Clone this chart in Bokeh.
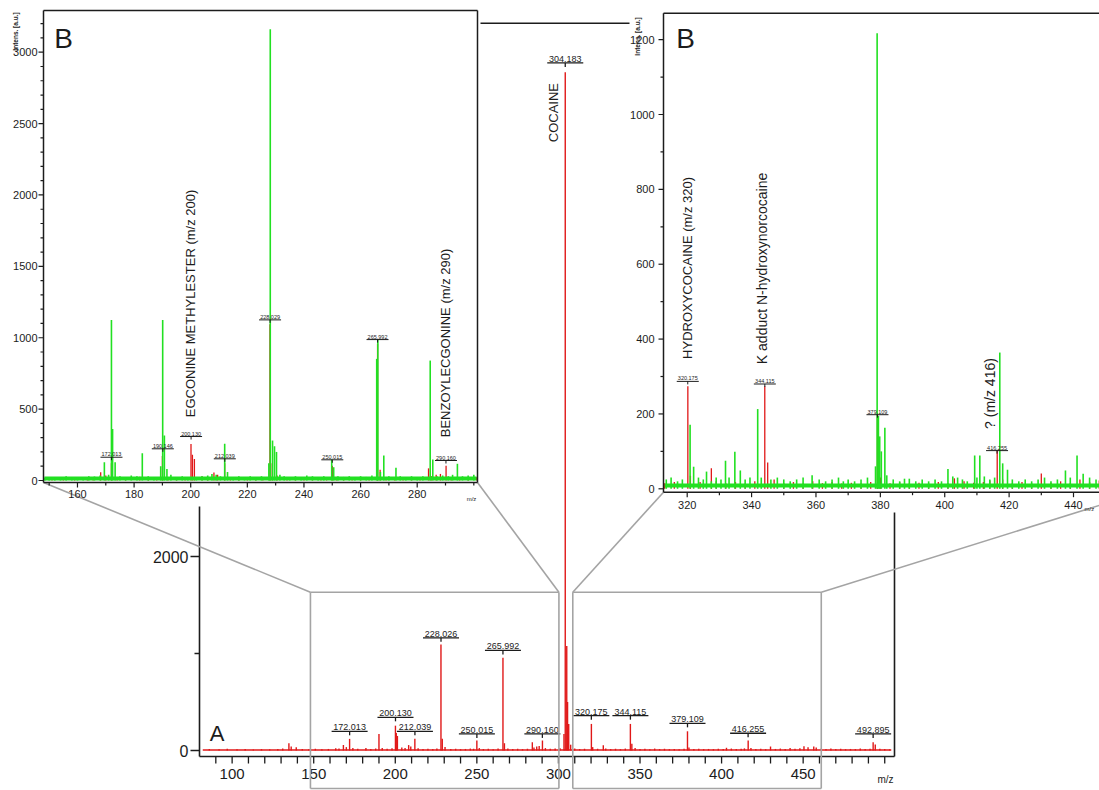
import math
from bokeh.plotting import figure
from bokeh.models import Range1d
from bokeh.embed import file_html
from bokeh.resources import INLINE
from bokeh.core.properties import value

W, H = 1099, 790
OX, OY = 0, 0
FONT = "Liberation Sans"
RED = "#e01818"
GREEN = "#22e022"
GREY = "#a4a4a4"
INK = "#1c1c1c"

# ---------------- data ----------------
# main spectrum (red), m/z and intensity [a.u.]
main_mz = [86, 92, 97, 103, 108, 113, 118, 123, 128, 131, 134.8, 136.2, 139.3, 143, 147, 151, 155, 159,
           163.5, 165.5, 168.2, 170, 172.0, 174, 177, 182, 185, 188, 190.0, 192, 195, 198, 200.1, 200.6,
           201.3, 204, 206, 208.2, 209.5, 212.0, 214, 217, 220, 223, 225.5, 228.0, 228.8, 230.5, 234, 237,
           240, 243, 246, 248, 250.0, 251.5, 254, 257, 260, 263, 266.0, 266.9, 269, 272, 275, 278, 281,
           284.0, 285, 286.7, 288.2, 290.2, 292, 295, 298, 301, 303.4, 304.18, 305.1, 305.6, 306.3, 307.5,
           310, 313, 316, 320.2, 321, 324, 327.5, 329, 332, 335, 338, 341, 344.1, 345, 347, 350, 353, 356,
           359, 362, 365, 368, 371, 374, 377, 379.1, 380, 383, 386, 389, 392, 395, 398, 401, 403, 406, 409,
           412, 414, 416.3, 418, 421, 424, 427, 430, 433, 436, 439, 442, 445, 448, 450.5, 453, 456.5, 458,
           461, 464, 467, 470, 473, 476, 479, 482, 485, 488, 491, 492.9, 494.2, 497, 500, 503]
main_int = [15, 12, 18, 12, 15, 10, 14, 12, 16, 20, 75, 40, 34, 15, 12, 18, 14, 16,
            22, 20, 57, 35, 120, 25, 18, 27, 15, 20, 171, 25, 18, 22, 256, 180,
            150, 30, 25, 56, 40, 120, 22, 15, 18, 15, 20, 1094, 120, 35, 15, 18,
            14, 16, 20, 18, 103, 25, 15, 18, 14, 20, 957, 75, 20, 15, 18, 14, 18,
            85, 30, 40, 46, 103, 25, 18, 20, 22, 171, 6993, 1077, 500, 274, 60,
            20, 15, 18, 274, 35, 18, 55, 20, 15, 18, 14, 20, 274, 70, 25, 15, 18, 14,
            20, 15, 18, 14, 16, 14, 18, 198, 30, 15, 18, 14, 16, 14, 18, 15, 28, 20, 16,
            18, 22, 103, 25, 15, 18, 14, 41, 16, 20, 15, 25, 18, 22, 45, 34, 41, 30,
            18, 16, 20, 15, 18, 14, 16, 15, 20, 16, 18, 85, 62, 18, 15, 12]
main_lab_mz = [172.013, 200.130, 212.039, 228.026, 250.015, 265.992, 290.160, 304.183,
               320.175, 344.115, 379.109, 416.255, 492.895]
main_lab_lvl = [198, 342, 198, 1162, 171, 1032, 171, 7088, 359, 359, 280, 178, 171]
main_lab_txt = ["172.013", "200.130", "212.039", "228.026", "250.015", "265.992", "290.160",
                "304.183", "320.175", "344.115", "379.109", "416.255", "492.895"]

# left inset (green), m/z 148-301
left_mz = [148.5, 150, 152, 154, 156, 158, 160, 162, 164, 166, 168, 169.5, 171, 172.0, 172.4, 173.3,
           175, 177, 179, 181, 182.9, 185, 187, 189.4, 190.1, 190.7, 191.6, 193, 195, 197, 199, 202,
           204, 206, 207.5, 209, 210.5, 212.0, 213, 215, 217, 219, 221, 223, 225, 227.6, 228.1, 228.9,
           229.6, 230.3, 231.5, 233, 235, 237, 239, 241, 243, 245, 247, 249.8, 250.5, 252, 254, 256,
           258, 260, 262, 264, 265.7, 266.1, 267, 268.2, 270, 272.5, 274, 276, 278, 280, 282, 284.6,
           285.5, 287, 289, 291, 292.5, 294.2, 296, 298, 300]
left_int = [20, 15, 25, 18, 30, 22, 25, 20, 30, 28, 35, 128, 40, 1125, 360, 128,
            30, 25, 35, 30, 191, 30, 25, 100, 1125, 315, 80, 40, 25, 30, 20, 25,
            30, 35, 45, 40, 30, 257, 60, 25, 30, 22, 30, 25, 30, 120, 3160, 280,
            240, 200, 40, 30, 25, 30, 25, 35, 30, 25, 30, 147, 93, 30, 25, 30,
            25, 30, 25, 35, 852, 990, 60, 175, 30, 90, 30, 25, 30, 25, 30, 840,
            147, 30, 35, 30, 40, 117, 30, 35, 40]
left_lab_mz = [172.013, 190.146, 200.130, 212.039, 228.029, 250.015, 265.992, 290.160]
left_lab_lvl = [163, 222, 308, 152, 1125, 145, 987, 140]
left_lab_txt = ["172.013", "190.146", "200.130", "212.039", "228.029", "250.015", "265.992", "290.160"]

# right inset (green), m/z 313-461
right_mz = [313.5, 315, 317, 318.5, 320.9, 322, 323.5, 325, 326, 327.5, 329, 330.5, 331.9, 333, 334.8,
            336.5, 338, 339.5, 341.9, 343, 346, 348, 350, 352, 354, 356, 358.8, 361, 363, 365, 367,
            368.5, 370, 372, 374, 376, 378.5, 379.0, 379.4, 379.8, 380.3, 381.4, 382, 384, 386, 387.5,
            389, 391, 393, 395, 397, 399, 401, 402.5, 404, 405.5, 407, 409.3, 410, 410.9, 412.3, 414,
            415.5, 417.1, 418, 419.5, 421, 423, 425, 427, 429, 431, 433, 435, 437.5, 439, 441.1, 443,
            445, 447, 450, 453, 456, 459]
right_int = [25, 30, 20, 25, 171, 59, 30, 25, 46, 20, 30, 25, 75, 30, 99,
             49, 25, 30, 213, 30, 25, 30, 25, 20, 25, 30, 36, 25, 20, 25, 30,
             20, 25, 20, 25, 30, 60, 1217, 195, 140, 100, 163, 36, 25, 20, 27,
             27, 20, 25, 20, 25, 20, 53, 33, 30, 25, 20, 89, 30, 89, 33, 25,
             30, 364, 68, 51, 25, 20, 25, 20, 25, 30, 20, 25, 49, 30, 89, 40,
             30, 25, 30, 25, 30, 25]
right_lab_mz = [320.175, 344.115, 379.109, 416.255]
right_lab_lvl = [287, 280, 198, 102]
right_lab_txt = ["320.175", "344.115", "379.109", "416.255"]

# axis ticks
main_xticks = list(range(90, 501, 10))
main_xlabels = [100, 150, 200, 250, 300, 350, 400, 450]
main_yticks = [0, 1000, 2000, 3000, 4000, 5000, 6000, 7000]
main_ylabels = [0, 2000, 4000, 6000]
left_xticks = list(range(150, 301, 10))
left_xlabels = [160, 180, 200, 220, 240, 260, 280]
left_yticks = list(range(0, 3201, 100))
left_ylabels = [0, 500, 1000, 1500, 2000, 2500, 3000]
right_xticks = list(range(320, 461, 10))
right_xlabels = [320, 340, 360, 380, 400, 420, 440]
right_yticks = list(range(0, 1201, 100))
right_ylabels = [0, 200, 400, 600, 800, 1000, 1200]

# zoom windows shown in the main spectrum
zoom_left = (148.0, 300.3)
zoom_right = (308.8, 461.1)


# ---------------- layout helpers (page pixels -> data) ----------------
class Sys:
    def __init__(self, name, d0x, d1x, p0x, p1x, d0y, d1y, p0y, p1y):
        self.name = name
        self.d0x, self.p0x, self.sx = d0x, p0x, (p1x - p0x) / (d1x - d0x)
        self.d0y, self.p0y, self.sy = d0y, p0y, (p1y - p0y) / (d1y - d0y)

    def dx(self, px):
        return self.d0x + (px - self.p0x) / self.sx

    def dy(self, py):
        return self.d0y + (py - self.p0y) / self.sy

    def ux(self, n):
        return n / abs(self.sx)

    def uy(self, n):
        return n / abs(self.sy)

    def xr(self):
        return Range1d(self.dx(OX), self.dx(OX + W))

    def yr(self):
        return Range1d(self.dy(OY + H), self.dy(OY))


M = Sys("default", 80, 450, 199, 199 + 370 * 1.6315, 0, 2000, 750, 556)
L = Sys("L", 148, 301.3, 43, 477, 0, 3000, 480, 51.7)
R = Sys("R", 320, 440, 686.7, 1073, 0, 1000, 488.3, 114)

p = figure(width=W, height=H, x_range=M.xr(), y_range=M.yr(), output_backend="svg",
           toolbar_location=None, x_axis_location=None, y_axis_location=None, min_border=0)
p.grid.visible = False
p.outline_line_color = None
p.background_fill_color = "white"
p.border_fill_color = "white"
p.extra_x_ranges = {"L": L.xr(), "R": R.xr()}
p.extra_y_ranges = {"L": L.yr(), "R": R.yr()}


def kw(s):
    return dict(x_range_name=s.name, y_range_name=s.name)


def seg(s, x0, y0, x1, y1, color=INK, width=1.0):
    p.segment(x0=x0, y0=y0, x1=x1, y1=y1, line_color=color, line_width=width, **kw(s))


def txt(s, x, y, t, size, align="center", baseline="middle", angle=0.0, color=INK, xo=0, yo=0, style="normal"):
    p.text(x=x, y=y, text=t, text_font=value(FONT), text_font_size=f"{size}px", text_align=align,
           text_baseline=baseline, angle=angle, text_color=color, x_offset=xo, y_offset=yo,
           text_font_style=style, **kw(s))


def sticks(s, mz, inten, lo, hi, color, width):
    xs = [m for m, i in zip(mz, inten) if lo <= m <= hi]
    ys = [i for m, i in zip(mz, inten) if lo <= m <= hi]
    seg(s, xs, [0] * len(xs), xs, ys, color, width)


def peak_labels(s, mz, lvl, labels, size, bar_px, tick_px, lw):
    hw = s.ux(bar_px / 2)
    seg(s, [m - hw for m in mz], lvl, [m + hw for m in mz], lvl, INK, lw)
    seg(s, mz, lvl, mz, [v - s.uy(tick_px) for v in lvl], INK, lw)
    txt(s, mz, lvl, labels, size, baseline="bottom", yo=-1)


def frame(s, l, t, r, b, width=1.5):
    x0, x1, y0, y1 = s.dx(l), s.dx(r), s.dy(b), s.dy(t)
    seg(s, [x0, x0, x1, x0], [y0, y1, y1, y0], [x0, x1, x1, x1], [y1, y1, y0, y0], INK, width)


def axes(s, l, b, xticks, xlabels, yticks, ylabels, fs, xlab_dy, ylab_dx, major_len, minor_len):
    xa, ya = s.dx(l), s.dy(b)
    xt_end = [ya - s.uy(major_len if t in xlabels else minor_len) for t in xticks]
    seg(s, xticks, [ya] * len(xticks), xticks, xt_end, INK, 1.2)
    txt(s, xlabels, [ya] * len(xlabels), [str(v) for v in xlabels], fs, yo=xlab_dy)
    yt_end = [xa - s.ux(major_len if t in ylabels else minor_len) for t in yticks]
    seg(s, [xa] * len(yticks), yticks, yt_end, yticks, INK, 1.2)
    txt(s, [xa] * len(ylabels), ylabels, [str(v) for v in ylabels], fs, align="right", xo=-ylab_dx)


# ---------------- main spectrum ----------------
p.line(x=[82, 504], y=[6, 6], line_color=RED, line_width=1.5)
sticks(M, main_mz, main_int, 80, 506, RED, 1.4)
peak_labels(M, main_lab_mz, main_lab_lvl, main_lab_txt, 9, 36, 4, 1.3)

mx0, mx1 = M.dx(199), M.dx(894)
my0, my1 = M.dy(756), M.dy(22.7)
seg(M, [mx0, mx0, mx1, mx0], [my0, my1, my1, my0], [mx0, mx1, mx1, mx1], [my1, my1, my0, my0], INK, 1.6)
xt_end = [my0 - M.uy(7) for t in main_xticks]
seg(M, main_xticks, [my0] * len(main_xticks), main_xticks, xt_end, INK, 1.3)
txt(M, main_xlabels, [my0] * len(main_xlabels), [str(v) for v in main_xlabels], 15, yo=17)
yt_end = [mx0 - M.ux(9 if t in main_ylabels else 5) for t in main_yticks]
seg(M, [mx0] * len(main_yticks), main_yticks, yt_end, main_yticks, INK, 1.3)
txt(M, [mx0] * len(main_ylabels), main_ylabels, [str(v) for v in main_ylabels], 16, align="right", xo=-11)
txt(M, [M.dx(885)], [M.dy(779)], ["m/z"], 10)
txt(M, [M.dx(216.7)], [M.dy(733)], ["A"], 22)
txt(M, [297.2], [6271], ["COCAINE"], 13, align="left", angle=math.pi / 2)

# ---------------- inset backgrounds ----------------
p.quad(left=[M.dx(OX), M.dx(629)], right=[M.dx(480), M.dx(OX + W)], top=[M.dy(OY), M.dy(OY)],
       bottom=[M.dy(506), M.dy(512)], fill_color="white", line_color=None)

# ---------------- zoom boxes and connectors ----------------
bt, bb = M.dy(591.7), M.dy(788)
for lo, hi in (zoom_left, zoom_right):
    seg(M, [lo, lo, hi, lo], [bb, bt, bt, bb], [lo, hi, hi, hi], [bt, bt, bb, bb], GREY, 1.6)
seg(M, [zoom_left[0], zoom_left[1], zoom_right[0], zoom_right[1]], [bt] * 4,
    [M.dx(43), M.dx(477), M.dx(663), M.dx(1141)], [M.dy(482), M.dy(482), M.dy(491.7), M.dy(491.7)],
    GREY, 1.6)

# ---------------- left inset ----------------
sticks(L, main_mz, main_int, 148.3, 301, RED, 1.3)
p.line(x=[148.3, 301], y=[14, 14], line_color=GREEN, line_width=4, **kw(L))
sticks(L, left_mz, left_int, 148.3, 301, GREEN, 1.6)
peak_labels(L, left_lab_mz, left_lab_lvl, left_lab_txt, 5.5, 22, 3, 1.0)
frame(L, 43, 10, 477, 482)
axes(L, 43, 482, left_xticks, left_xlabels, left_yticks, left_ylabels, 11, 11, 6, 5, 3)
txt(L, [L.dx(471)], [L.dy(498)], ["m/z"], 6)
txt(L, [L.dx(15)], [L.dy(31)], ["Intens. [a.u.]"], 6.5, angle=math.pi / 2, style="bold")
txt(L, [L.dx(63)], [L.dy(38)], ["B"], 28)
txt(L, [200.0], [443], ["EGCONINE METHYLESTER (m/z 200)"], 13, align="left", angle=math.pi / 2)
txt(L, [290.0], [303], ["BENZOYLECGONINE (m/z 290)"], 13, align="left", angle=math.pi / 2)

# ---------------- right inset ----------------
sticks(R, main_mz, main_int, 313, 470, RED, 1.3)
p.line(x=[313, 470], y=[9, 9], line_color=GREEN, line_width=4, **kw(R))
sticks(R, right_mz, right_int, 313, 470, GREEN, 1.6)
peak_labels(R, right_lab_mz, right_lab_lvl, right_lab_txt, 5.5, 22, 3, 1.0)
frame(R, 663, 12.7, 1141, 491.7)
axes(R, 663, 491.7, right_xticks, right_xlabels, right_yticks, right_ylabels, 11, 13, 9, 5, 3)
txt(R, [R.dx(1084)], [R.dy(508)], ["m/z"], 6, align="left")
txt(R, [R.dx(637)], [R.dy(36)], ["Intens. [a.u.]"], 6.5, angle=math.pi / 2, style="bold")
txt(R, [R.dx(685)], [R.dy(38)], ["B"], 28)
txt(R, [320.0], [347], ["HYDROXYCOCAINE (m/z 320)"], 13, align="left", angle=math.pi / 2)
txt(R, [343.3], [333], ["K adduct N-hydroxynorcocaine"], 14, align="left", angle=math.pi / 2)
txt(R, [414.1], [160], ["? (m/z 416)"], 14, align="left", angle=math.pi / 2)

open("out.html", "w").write(file_html(p, INLINE))
